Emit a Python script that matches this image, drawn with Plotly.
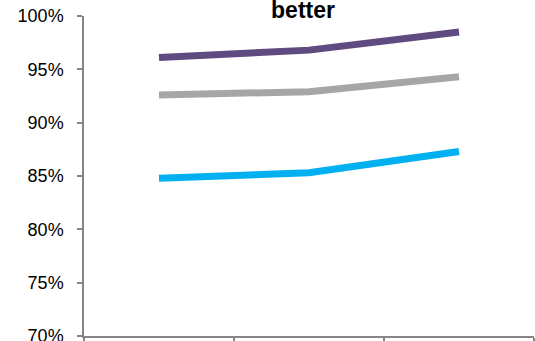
import plotly.graph_objects as go

categories = ["Cat 1", "Cat 2", "Cat 3"]
series_purple = [0.961, 0.968, 0.985]
series_gray = [0.926, 0.929, 0.943]
series_blue = [0.848, 0.853, 0.873]
y_ticks = [0.70, 0.75, 0.80, 0.85, 0.90, 0.95, 1.00]
y_tick_labels = ["70%", "75%", "80%", "85%", "90%", "95%", "100%"]
title_text = "better"

fig = go.Figure()
for vals, col in [(series_blue, "#00B0F0"), (series_gray, "#A6A6A6"), (series_purple, "#5F4B7F")]:
    fig.add_trace(go.Scatter(x=categories, y=vals, mode="lines",
                             line=dict(color=col, width=7), showlegend=False,
                             hoverinfo="skip"))

fig.update_layout(
    width=535, height=341,
    margin=dict(l=83.5, r=1, t=15.7, b=5.3, autoexpand=False),
    paper_bgcolor="white", plot_bgcolor="white",
    font=dict(family="Liberation Sans, Arial", size=18, color="#000000"),
    title=dict(text="<b>" + title_text + "</b>", x=303 / 535, xref="container", xanchor="center",
               y=1 - 9.5 / 341, yref="container", yanchor="middle", pad=dict(t=0, b=0),
               font=dict(size=23, family="Liberation Sans, Arial", color="#000000")),
)
fig.update_xaxes(type="category", range=[-0.5, 2.5], showgrid=False, zeroline=False,
                 showline=True, linecolor="#868686", linewidth=1.5,
                 ticks="outside", tickson="boundaries", ticklen=5, tickcolor="#868686",
                 tickwidth=1.5, showticklabels=False, automargin=False)
fig.update_yaxes(range=[0.70, 1.00], tickvals=y_ticks, ticktext=y_tick_labels,
                 showgrid=False, zeroline=False, showline=True, linecolor="#868686",
                 linewidth=1.5, ticks="outside", ticklen=5, tickcolor="#868686",
                 tickwidth=1.5, tickfont=dict(size=18, color="#000000"),
                 ticklabelstandoff=10, ticklabeloverflow="allow", automargin=False)

fig.write_html("out.html")
